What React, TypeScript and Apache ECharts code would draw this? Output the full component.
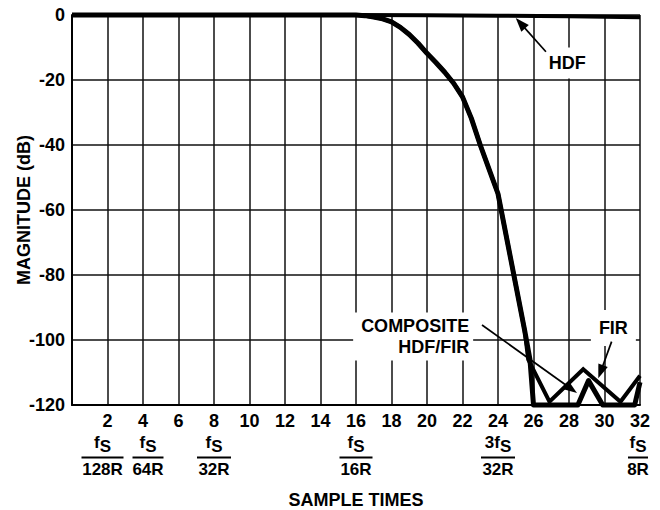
import React, { useEffect, useRef } from 'react';
import * as echarts from 'echarts';

// ---------- data ----------
const hdfX = [0, 8, 16, 20, 24, 28, 32];
const hdfDb = [0, 0, 0, -0.1, -0.2, -0.4, -0.7];

const compositeX = [0, 16, 16.5, 17, 17.5, 18, 18.5, 19, 19.5, 20, 20.5, 21, 21.5, 22, 22.5, 23, 23.5, 24, 24.5, 25, 25.5, 25.8, 26, 27, 28.5, 29.1, 29.9, 31.7, 32];
const compositeDb = [0, 0, -0.2, -0.6, -1.2, -2.1, -3.8, -6, -8.7, -11.8, -14.6, -17.6, -21, -25.2, -31.8, -40, -47.5, -55, -69, -83, -97, -106, -120, -120, -120, -112.5, -120, -120, -113];

const firX = [0, 16, 16.5, 17, 17.5, 18, 18.5, 19, 19.5, 20, 20.5, 21, 21.5, 22, 22.5, 23, 23.5, 24, 24.5, 25, 25.5, 25.7, 26.9, 28.8, 30.9, 32];
const firDb = [0, 0, -0.2, -0.6, -1.2, -2.1, -3.8, -6, -8.7, -11.8, -14.6, -17.6, -21, -25.2, -31.8, -40, -47.5, -55, -69, -83, -97, -106, -119, -109, -119, -111];

const fracTicks = [2, 4, 8, 16, 24, 32];
const fracNumerators = ['f', 'f', 'f', 'f', '3f', 'f'];
const fracSubscripts = ['S', 'S', 'S', 'S', 'S', 'S'];
const fracDenominators = ['128R', '64R', '32R', '16R', '32R', '8R'];

const xAxisTitle = 'SAMPLE TIMES';
const yAxisTitle = 'MAGNITUDE (dB)';

// ---------- layout ----------
const FONT = 'Arial, "Liberation Sans", Helvetica, sans-serif';
const fracShift = [-5, 5, 0, 0, 0, -2];
const fracLineW = [42, 31, 34, 33, 34, 20];

const annotations = [
  { text: 'HDF', at: [27.9, -14.8], align: 'center', pad: [5, 6, 5, 6], from: [26.7, -11.3], to: [25.0, -0.9] },
  { text: 'COMPOSITE\nHDF/FIR', at: [22.6, -98.9], align: 'right', pad: [3, 4, 3, 8], from: [23.1, -95.4], to: [28.45, -116.3] },
  { text: 'FIR', at: [30.5, -96.3], align: 'center', pad: [6, 8, 9, 8], from: [30.4, -100.5], to: [29.65, -111.8] },
];

function zip(xs: number[], ys: number[]) {
  return xs.map((x, i) => [x, ys[i]]);
}

function measure(text: string, size: number) {
  const c = document.createElement('canvas');
  const ctx = c.getContext('2d')!;
  ctx.font = `bold ${size}px ${FONT}`;
  return ctx.measureText(text).width;
}

export default function App() {
  const ref = useRef<HTMLDivElement>(null);
  useEffect(() => {
    if (!ref.current) return;
    const chart = echarts.init(ref.current, undefined, { renderer: 'svg' });
    const lineBase = { type: 'line', showSymbol: false, symbol: 'none', clip: false, smooth: false, animation: false };
    chart.setOption({
      animation: false,
      backgroundColor: '#fff',
      grid: { left: 72, right: 20, top: 15, bottom: 105, containLabel: false, outerBoundsMode: 'none' },
      xAxis: {
        type: 'value', min: 0, max: 32, interval: 2,
        name: xAxisTitle, nameLocation: 'middle', nameGap: 86, nameMoveOverlap: false,
        nameTextStyle: { fontFamily: FONT, fontWeight: 'bold', fontSize: 18, color: '#000' },
        axisLine: { show: true, onZero: false, lineStyle: { color: '#000', width: 2 } },
        axisTick: { show: false },
        axisLabel: {
          margin: 7, fontFamily: FONT, fontWeight: 'bold', fontSize: 18, color: '#000',
          formatter: (v: number) => (v === 0 ? '' : String(v)),
          showMaxLabel: true,
        },
        splitLine: { show: true, lineStyle: { color: '#111', width: 1.5 } },
      },
      yAxis: {
        type: 'value', min: -120, max: 0, interval: 20,
        name: yAxisTitle, nameLocation: 'middle', nameGap: 39, nameRotate: 90, nameMoveOverlap: false,
        nameTextStyle: { fontFamily: FONT, fontWeight: 'bold', fontSize: 18, color: '#000' },
        axisLine: { show: true, lineStyle: { color: '#000', width: 2 } },
        axisTick: { show: false },
        axisLabel: { margin: 7, fontFamily: FONT, fontWeight: 'bold', fontSize: 18, color: '#000' },
        splitLine: { show: true, lineStyle: { color: '#111', width: 1.5 } },
      },
      series: [
        { ...lineBase, name: 'HDF', data: zip(hdfX, hdfDb), lineStyle: { color: '#000', width: 4, join: 'miter' }, z: 3 },
        { ...lineBase, name: 'FIR', data: zip(firX, firDb), lineStyle: { color: '#000', width: 4, join: 'miter' }, z: 4 },
        { ...lineBase, name: 'COMPOSITE HDF/FIR', data: zip(compositeX, compositeDb), lineStyle: { color: '#000', width: 5, join: 'round' }, z: 5 },
      ],
    });

    const toPx = (p: number[]) => chart.convertToPixel({ gridIndex: 0 }, p) as number[];
    const graphics: any[] = [];

    // fraction labels under the x axis
    const base = toPx([0, -120])[1];
    fracTicks.forEach((t, i) => {
      const cx = toPx([t, -120])[0] + fracShift[i];
      const wm = measure(fracNumerators[i], 17);
      const ws = measure(fracSubscripts[i], 17);
      const left = cx - (wm + ws) / 2;
      graphics.push({
        type: 'text', z: 100,
        style: { text: fracNumerators[i], x: left, y: base + 37, align: 'left', verticalAlign: 'middle', fill: '#000', font: `bold 17px ${FONT}` },
      });
      graphics.push({
        type: 'text', z: 100,
        style: { text: fracSubscripts[i], x: left + wm, y: base + 41, align: 'left', verticalAlign: 'middle', fill: '#000', font: `bold 17px ${FONT}` },
      });
      graphics.push({
        type: 'rect', z: 100,
        shape: { x: cx - fracLineW[i] / 2, y: base + 51.5, width: fracLineW[i], height: 2 },
        style: { fill: '#000' },
      });
      graphics.push({
        type: 'text', z: 100,
        style: { text: fracDenominators[i], x: cx, y: base + 64, align: 'center', verticalAlign: 'middle', fill: '#000', font: `bold 17px ${FONT}` },
      });
    });

    // annotations with arrows
    annotations.forEach((a) => {
      const p = toPx(a.at);
      graphics.push({
        type: 'text', z: 100,
        style: {
          text: a.text, x: p[0], y: p[1], align: a.align, verticalAlign: 'middle',
          fill: '#000', font: `bold 18px ${FONT}`, lineHeight: 21,
          backgroundColor: '#fff', padding: a.pad,
        },
      });
      const s = toPx(a.from);
      const e = toPx(a.to);
      const dx = e[0] - s[0];
      const dy = e[1] - s[1];
      const len = Math.hypot(dx, dy);
      const ux = dx / len;
      const uy = dy / len;
      const hl = 14;
      const hw = 5;
      const bx = e[0] - ux * hl;
      const by = e[1] - uy * hl;
      const nx = -uy;
      const ny = ux;
      graphics.push({
        type: 'line', z: 101,
        shape: { x1: s[0], y1: s[1], x2: bx + ux * 2, y2: by + uy * 2 },
        style: { stroke: '#000', lineWidth: 1.7 },
      });
      graphics.push({
        type: 'polygon', z: 101,
        shape: { points: [[e[0], e[1]], [bx + nx * hw, by + ny * hw], [bx - nx * hw, by - ny * hw]] },
        style: { fill: '#000' },
      });
    });

    chart.setOption({ graphic: { elements: graphics } });
    return () => chart.dispose();
  }, []);

  return <div ref={ref} style={{ position: 'fixed', left: 0, top: 0, width: 660, height: 510, background: '#fff' }} />;
}
